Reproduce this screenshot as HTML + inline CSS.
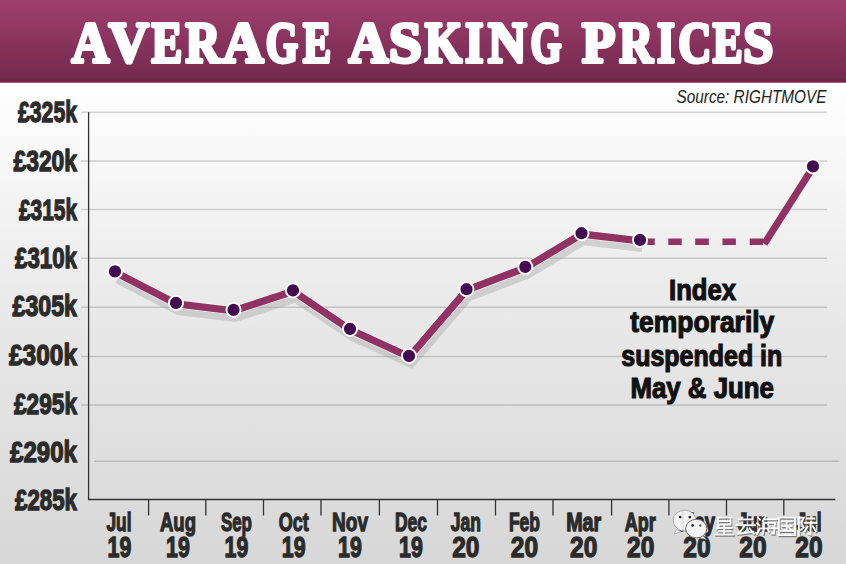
<!DOCTYPE html>
<html><head><meta charset="utf-8">
<style>
html,body{margin:0;padding:0;width:846px;height:564px;overflow:hidden;background:#fff}
svg{display:block;position:absolute;left:0;top:0}
</style></head>
<body>
<svg width="846" height="564" viewBox="0 0 846 564">
<defs>
<linearGradient id="hdr" x1="0" y1="0" x2="0" y2="1">
<stop offset="0" stop-color="#a03f6d"/>
<stop offset="1" stop-color="#74294f"/>
</linearGradient>
<linearGradient id="bg" x1="0" y1="0" x2="0" y2="1">
<stop offset="0" stop-color="#ffffff"/>
<stop offset="0.5" stop-color="#e8e8e8"/>
<stop offset="1" stop-color="#d7d7d7"/>
</linearGradient>
<filter id="blur" x="-10%" y="-10%" width="120%" height="120%"><feGaussianBlur stdDeviation="0.7"/></filter>
</defs>
<!-- background -->
<rect x="0" y="82" width="846" height="482" fill="url(#bg)"/>
<rect x="0" y="0" width="846" height="78" fill="url(#hdr)"/>
<rect x="0" y="78" width="846" height="2" fill="#6c2a4b"/>
<rect x="0" y="80" width="846" height="2" fill="#7a2247"/>
<rect x="0" y="82" width="846" height="1" fill="#6f2447" opacity="0.7"/>

<!-- title -->
<g font-family="'Liberation Serif', serif" font-weight="bold" font-size="58" fill="#fff" stroke="#fff" stroke-width="3.8" stroke-linejoin="round">
<text x="71.7" y="61.5" textLength="37.5" lengthAdjust="spacingAndGlyphs">A</text>
<text x="108.7" y="61.5" textLength="40.0" lengthAdjust="spacingAndGlyphs">V</text>
<text x="151.4" y="61.5" textLength="30.7" lengthAdjust="spacingAndGlyphs">E</text>
<text x="185.4" y="61.5" textLength="34.8" lengthAdjust="spacingAndGlyphs">R</text>
<text x="222.8" y="61.5" textLength="40.8" lengthAdjust="spacingAndGlyphs">A</text>
<text x="265.8" y="61.5" textLength="32.4" lengthAdjust="spacingAndGlyphs">G</text>
<text x="302.9" y="61.5" textLength="28.1" lengthAdjust="spacingAndGlyphs">E</text>
<text x="348.7" y="61.5" textLength="39.7" lengthAdjust="spacingAndGlyphs">A</text>
<text x="389.1" y="61.5" textLength="32.8" lengthAdjust="spacingAndGlyphs">S</text>
<text x="424.7" y="61.5" textLength="37.3" lengthAdjust="spacingAndGlyphs">K</text>
<text x="465.0" y="61.5" textLength="18.5" lengthAdjust="spacingAndGlyphs">I</text>
<text x="487.9" y="61.5" textLength="38.5" lengthAdjust="spacingAndGlyphs">N</text>
<text x="530.6" y="61.5" textLength="31.2" lengthAdjust="spacingAndGlyphs">G</text>
<text x="582.0" y="61.5" textLength="33.3" lengthAdjust="spacingAndGlyphs">P</text>
<text x="619.3" y="61.5" textLength="33.7" lengthAdjust="spacingAndGlyphs">R</text>
<text x="657.0" y="61.5" textLength="17.9" lengthAdjust="spacingAndGlyphs">I</text>
<text x="678.2" y="61.5" textLength="33.1" lengthAdjust="spacingAndGlyphs">C</text>
<text x="712.8" y="61.5" textLength="29.8" lengthAdjust="spacingAndGlyphs">E</text>
<text x="743.2" y="61.5" textLength="30.0" lengthAdjust="spacingAndGlyphs">S</text>
</g>
<!-- source -->
<text x="826.5" y="103.3" text-anchor="end" font-family="'Liberation Sans', sans-serif" font-style="italic" font-size="18.5" fill="#222" textLength="150" lengthAdjust="spacingAndGlyphs">Source: RIGHTMOVE</text>

<!-- gridlines -->
<g stroke="#000" stroke-opacity="0.16" stroke-width="1.5">
<line x1="81" y1="112.3" x2="827" y2="112.3"/>
<line x1="81" y1="161" x2="827" y2="161"/>
<line x1="81" y1="209.5" x2="827" y2="209.5"/>
<line x1="81" y1="258.3" x2="827" y2="258.3"/>
<line x1="81" y1="307.2" x2="827" y2="307.2"/>
<line x1="81" y1="356.4" x2="827" y2="356.4"/>
<line x1="81" y1="405" x2="827" y2="405"/>
<line x1="94" y1="461.3" x2="839.5" y2="461.3"/>
</g>
<!-- axes -->
<g stroke="#333" stroke-width="1.3" fill="none">
<path d="M88.6 112 V499.5 H835.3"/>
<path d="M148.6 499.5V515.5 M205.8 499.5V515.5 M263.5 499.5V515.5 M321 499.5V515.5 M379.4 499.5V515.5 M437.5 499.5V515.5 M495.5 499.5V515.5 M553 499.5V515.5 M611.6 499.5V515.5 M668.9 499.5V515.5 M726.5 499.5V515.5 M783.8 499.5V515.5"/>
</g>

<!-- y labels -->
<g font-family="'Liberation Sans', sans-serif" font-weight="bold" font-size="29" fill="#2b2b2b" stroke="#2b2b2b" stroke-width="1.3" text-anchor="end">
<text x="77" y="122" textLength="59" lengthAdjust="spacingAndGlyphs">£325k</text>
<text x="77" y="171" textLength="63.5" lengthAdjust="spacingAndGlyphs">£320k</text>
<text x="77" y="219.5" textLength="58" lengthAdjust="spacingAndGlyphs">£315k</text>
<text x="77" y="267.5" textLength="62" lengthAdjust="spacingAndGlyphs">£310k</text>
<text x="77" y="316" textLength="64.5" lengthAdjust="spacingAndGlyphs">£305k</text>
<text x="77" y="364.5" textLength="68" lengthAdjust="spacingAndGlyphs">£300k</text>
<text x="77" y="413.5" textLength="63" lengthAdjust="spacingAndGlyphs">£295k</text>
<text x="77" y="461.5" textLength="67" lengthAdjust="spacingAndGlyphs">£290k</text>
<text x="77" y="510" textLength="62" lengthAdjust="spacingAndGlyphs">£285k</text>
</g>

<!-- shadow -->
<polyline points="115,271 176,302.5 233.5,309.5 293,290 350,328.5 409,355.5 466.5,288.8 525.3,266.5 581.5,232.8 640,239.5" transform="translate(2.2,8.6)" fill="none" stroke="#a8a8a8" stroke-opacity="0.42" stroke-width="7.8" stroke-linejoin="miter" filter="url(#blur)"/>
<!-- line -->
<polyline points="115,271 176,302.5 233.5,309.5 293,290 350,328.5 409,355.5 466.5,288.8 525.3,266.5 581.5,232.8 640,239.5" transform="translate(0.3,1.3)" fill="none" stroke="#fff" stroke-opacity="0.6" stroke-width="8.8" stroke-linejoin="miter"/>
<polyline points="115,271 176,302.5 233.5,309.5 293,290 350,328.5 409,355.5 466.5,288.8 525.3,266.5 581.5,232.8 640,239.5" transform="translate(0.3,1.3)" fill="none" stroke="#903262" stroke-width="7.3" stroke-linejoin="miter"/>
<!-- dashed -->
<path d="M647.3 241.8 H654.7 M668.3 241.8 H681.7 M695.2 241.8 H708.8 M722.5 241.8 H735.9 M749.7 241.8 H763" stroke="#903262" stroke-width="6.5" fill="none"/>
<path d="M764.3 243.8 L813.5 166.5" stroke="#903262" stroke-width="7" fill="none"/>

<!-- dots -->
<g fill="#420a50" stroke="#fff" stroke-width="1.9" transform="translate(0,0.4)">
<circle cx="115" cy="271" r="7.05"/>
<circle cx="176" cy="302.5" r="7.05"/>
<circle cx="233.5" cy="309.5" r="7.05"/>
<circle cx="293" cy="290" r="7.05"/>
<circle cx="350" cy="328.5" r="7.05"/>
<circle cx="409" cy="355.5" r="7.05"/>
<circle cx="466.5" cy="288.8" r="7.05"/>
<circle cx="525.3" cy="266.5" r="7.05"/>
<circle cx="581.5" cy="232.8" r="7.05"/>
<circle cx="640" cy="239.5" r="7.05"/>
<circle cx="813" cy="166" r="7.05"/>
</g>

<!-- annotation -->
<g font-family="'Liberation Sans', sans-serif" font-weight="bold" font-size="29.5" fill="#111" stroke="#111" stroke-width="1.2" text-anchor="middle">
<text x="702.5" y="299.8" textLength="67" lengthAdjust="spacingAndGlyphs">Index</text>
<text x="702.3" y="332" textLength="144" lengthAdjust="spacingAndGlyphs">temporarily</text>
<text x="701.8" y="365.6" textLength="161" lengthAdjust="spacingAndGlyphs">suspended in</text>
<text x="702.2" y="397.8" textLength="143.5" lengthAdjust="spacingAndGlyphs">May &amp; June</text>
</g>

<!-- x labels -->
<g font-family="'Liberation Sans', sans-serif" font-weight="bold" fill="#2b2b2b" stroke="#2b2b2b" stroke-width="1.3" text-anchor="middle">
<g font-size="26">
<text x="119" y="530.7" textLength="25" lengthAdjust="spacingAndGlyphs">Jul</text>
<text x="178" y="530.7" textLength="36" lengthAdjust="spacingAndGlyphs">Aug</text>
<text x="236.4" y="530.7" textLength="31" lengthAdjust="spacingAndGlyphs">Sep</text>
<text x="293.7" y="530.7" textLength="30" lengthAdjust="spacingAndGlyphs">Oct</text>
<text x="350" y="530.7" textLength="36" lengthAdjust="spacingAndGlyphs">Nov</text>
<text x="411" y="530.7" textLength="32" lengthAdjust="spacingAndGlyphs">Dec</text>
<text x="465.8" y="530.7" textLength="30" lengthAdjust="spacingAndGlyphs">Jan</text>
<text x="524.4" y="530.7" textLength="31" lengthAdjust="spacingAndGlyphs">Feb</text>
<text x="583.7" y="530.7" textLength="35" lengthAdjust="spacingAndGlyphs">Mar</text>
<text x="640.3" y="530.7" textLength="31" lengthAdjust="spacingAndGlyphs">Apr</text>
<text x="697" y="530.7" textLength="36" lengthAdjust="spacingAndGlyphs">May</text>
<text x="753" y="530.7" textLength="30" lengthAdjust="spacingAndGlyphs">Jun</text>
<text x="809" y="530.7" textLength="25" lengthAdjust="spacingAndGlyphs">Jul</text>
</g>
<g font-size="30">
<text x="119.5" y="556.7" textLength="23.8" lengthAdjust="spacingAndGlyphs">19</text>
<text x="178" y="556.7" textLength="23.8" lengthAdjust="spacingAndGlyphs">19</text>
<text x="236.4" y="556.7" textLength="23.8" lengthAdjust="spacingAndGlyphs">19</text>
<text x="293.7" y="556.7" textLength="23.8" lengthAdjust="spacingAndGlyphs">19</text>
<text x="350" y="556.7" textLength="23.8" lengthAdjust="spacingAndGlyphs">19</text>
<text x="411" y="556.7" textLength="23.8" lengthAdjust="spacingAndGlyphs">19</text>
<text x="465.8" y="556.7" textLength="27.3" lengthAdjust="spacingAndGlyphs">20</text>
<text x="524.4" y="556.7" textLength="27.3" lengthAdjust="spacingAndGlyphs">20</text>
<text x="583.7" y="556.7" textLength="27.3" lengthAdjust="spacingAndGlyphs">20</text>
<text x="640.7" y="556.7" textLength="27.3" lengthAdjust="spacingAndGlyphs">20</text>
<text x="697" y="556.7" textLength="27.3" lengthAdjust="spacingAndGlyphs">20</text>
<text x="753" y="556.7" textLength="27.3" lengthAdjust="spacingAndGlyphs">20</text>
<text x="809" y="556.7" textLength="27.3" lengthAdjust="spacingAndGlyphs">20</text>
</g>
</g>

<!-- watermark -->
<g>
<path d="M676.5 529.5 L674 534 L681 531.5 Z" fill="#f2f2f2" stroke="#9a9a9a" stroke-width="0.7"/>
<ellipse cx="684.6" cy="520.6" rx="11.4" ry="10.4" fill="#f4f4f4" stroke="#9c9c9c" stroke-width="0.8"/>
<rect x="681.5" y="511" width="2.5" height="19" fill="#dedede" opacity="0.8"/>
<circle cx="680.1" cy="517.1" r="1.4" fill="#222"/>
<circle cx="689.9" cy="517.1" r="1.4" fill="#222"/>
<path d="M702.5 535.5 L706.5 539.5 L699.5 538 Z" fill="#f2f2f2" stroke="#8a8a8a" stroke-width="0.7"/>
<ellipse cx="696.3" cy="528.6" rx="10.6" ry="9.3" fill="#f4f4f4" stroke="#707070" stroke-width="1"/>
<circle cx="692.6" cy="525.4" r="1.3" fill="#222"/>
<circle cx="700.3" cy="525.4" r="1.2" fill="#555"/>
</g>
<g fill="none" stroke-linecap="square" stroke-width="1.9" transform="translate(715,516.6) scale(0.975,0.95) translate(-715,-517.5)">
<g stroke="#5a5a5a" transform="translate(0.8,1.3)" opacity="0.75">
<path id="zh" d="M718 518.5H731V526H718Z M718 522.2H731 M719 526.8L716.5 531 M717.5 529.5H732 M718.5 533H731 M715.5 536.5H734 M724.5 527V536.5
M740 520.5H753 M737 526.5H756 M746 526.5L739 535.5L754 533.5 M750.5 530L755 535.5
M759 518.5L761 520.5 M758 524.5L760.5 526.5 M758 536L761 530 M767 517L764 522 M765 520.5H778 M765.5 524H776.5L775.5 535.5H773 M765.5 524L764.5 535.5 M762.5 529.8H779 M769.5 526L770.5 528 M769.5 531.5L770.5 533.5
M780.5 518.5H797V537H780.5Z M783.5 522.5H794 M784 527.5H793 M782.5 532.5H795 M788.5 522.5V532.5 M791 529L792.5 531
M801 518V537.5 M801 518.5H806L803.5 524L806 529L803 531.5 M809 519.5H817 M807 524H819 M813 524V536.5L811 535.5 M810 528L807 533 M815.5 528L818.5 533"/>
</g>
<use href="#zh" stroke="#ffffff"/>
</g>
</svg>
</body></html>
